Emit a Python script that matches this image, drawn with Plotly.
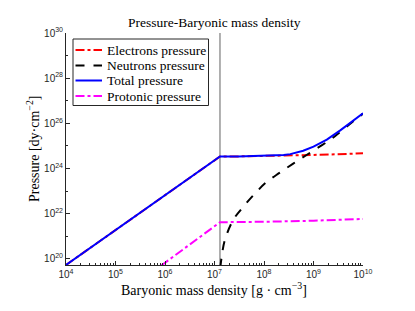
import plotly.graph_objects as go

# ---- data ----
drip_density = 1.29e7
y_axis_min = 5.4e19
y_axis_max = 1e30

total_density = [1e4, 1.29e7, 3e7, 8.3e7, 1.6e8, 2.5e8, 3.4e8, 4.5e8, 6.2e8, 1e9, 1.35e9,
                 1.86e9, 3.47e9, 6.5e9, 1e10]
total_pressure = [5.4e19, 3.4e24, 3.45e24, 3.6e24, 3.76e24, 4.0e24, 4.35e24, 5.0e24, 6.1e24,
                  9.3e24, 1.3e25, 1.9e25, 4.9e25, 1.35e26, 2.8e26]

electron_density = [1e4, 1.29e7, 3e7, 1e8, 3e8, 1e9, 3e9, 1e10]
electron_pressure = [5.4e19, 3.4e24, 3.45e24, 3.55e24, 3.75e24, 4.0e24, 4.3e24, 4.7e24]

neutron_density = [1.31e7, 1.4e7, 1.62e7, 2.4e7, 3.8e7, 6.6e7, 1.12e8, 2.09e8, 3.89e8, 7.24e8,
                   1.35e9, 2.34e9, 3.47e9, 6.46e9, 1e10]
neutron_pressure = [4e19, 1.3e20, 6.9e20, 5.4e21, 2.0e22, 7.9e22, 2.5e23, 6.6e23, 1.66e24, 3.98e24,
                    9.5e24, 2.1e25, 4.2e25, 1.26e26, 2.7e26]

proton_density = [8.3e5, 1.29e7, 1e8, 1e9, 1e10]
proton_pressure = [5.0e19, 4.2e21, 4.4e21, 4.9e21, 5.9e21]

x_tick_vals = [1e4, 1e5, 1e6, 1e7, 1e8, 1e9, 1e10]
x_tick_text = ["10<sup>4</sup>", "10<sup>5</sup>", "10<sup>6</sup>", "10<sup>7</sup>",
               "10<sup>8</sup>", "10<sup>9</sup>", "10<sup>10</sup>"]
y_tick_vals = [1e20, 1e22, 1e24, 1e26, 1e28, 1e30]
y_tick_text = ["10<sup>20</sup>", "10<sup>22</sup>", "10<sup>24</sup>", "10<sup>26</sup>",
               "10<sup>28</sup>", "10<sup>30</sup>"]

legend_names = ["Electrons pressure", "Neutrons pressure", "Total pressure", "Protonic pressure"]
legend_colors = ["#ff0000", "#000000", "#0000ff", "#ff00ff"]
legend_dashes = ["dashdot", "dash", "solid", "dashdot"]

title_text = "Pressure-Baryonic mass density"
x_title = "Baryonic mass density [g · cm<sup>−3</sup>]"
y_title = "Pressure [dy·cm<sup>−2</sup>]"

SERIF = "Liberation Serif"
SANS = "Liberation Sans"
AX = "#262626"

# The page body has an 8px default margin; the figure is sized so that
# the plot area lands at window pixels x 66..363, y 33..265.
OFF = 8
W, H = 399, 295
PL, PT, PW, PH = 66, 33, 297, 232          # plot area in window pixels
L, T = PL - OFF, PT - OFF
R, B = W - L - PW, H - T - PH


def px(xp):
    return (xp - PL) / PW


def py(yp):
    return (PT + PH - yp) / PH


fig = go.Figure()

fig.add_trace(go.Scatter(x=[drip_density, drip_density], y=[y_axis_min, y_axis_max],
                         mode="lines", line=dict(color="rgb(150,150,150)", width=1.5),
                         showlegend=False, hoverinfo="skip"))
series = [
    (electron_density, electron_pressure, "linear"),
    (neutron_density, neutron_pressure, "spline"),
    (total_density, total_pressure, "linear"),
    (proton_density, proton_pressure, "linear"),
]
for (xs, ys, shp), name, col, dash in zip(series, legend_names, legend_colors, legend_dashes):
    fig.add_trace(go.Scatter(x=xs, y=ys, mode="lines", name=name,
                             line=dict(color=col, width=2, dash=dash, shape=shp),
                             showlegend=False))

# manual legend (MATLAB-like, compact)
box_l, box_r, box_t, box_b = 73, 208.5, 39, 105.5
fig.add_shape(type="rect", xref="paper", yref="paper",
              x0=px(box_l), x1=px(box_r), y0=py(box_b), y1=py(box_t),
              line=dict(color=AX, width=1), fillcolor="white", layer="above")
row_y = [50, 65.5, 80.5, 96]
for yy, name, col, dash in zip(row_y, legend_names, legend_colors, legend_dashes):
    fig.add_shape(type="line", xref="paper", yref="paper",
                  x0=px(75.5), x1=px(102), y0=py(yy), y1=py(yy),
                  line=dict(color=col, width=2, dash=dash), layer="above")
    fig.add_annotation(text=name, xref="paper", yref="paper", x=px(104.5), y=py(yy),
                       xanchor="left", yanchor="middle", showarrow=False,
                       font=dict(family=SERIF, size=13.5, color="#000"))

# titles as positioned annotations
fig.add_annotation(text=title_text, xref="paper", yref="paper", x=px(214), y=py(23),
                   xanchor="center", yanchor="middle", showarrow=False,
                   font=dict(family=SERIF, size=13.5, color="#000"))
fig.add_annotation(text=x_title, xref="paper", yref="paper", x=px(214), y=py(289),
                   xanchor="center", yanchor="middle", showarrow=False,
                   font=dict(family=SERIF, size=14, color="#000"))
fig.add_annotation(text=y_title, xref="paper", yref="paper", x=px(33), y=py(149),
                   xanchor="center", yanchor="middle", showarrow=False, textangle=-90,
                   font=dict(family=SERIF, size=14, color="#000"))

fig.update_layout(
    width=W, height=H,
    margin=dict(l=L, r=R, t=T, b=B),
    paper_bgcolor="white", plot_bgcolor="white",
    showlegend=False,
)

fig.update_xaxes(
    type="log", range=[4, 10],
    tickvals=x_tick_vals, ticktext=x_tick_text,
    ticks="inside", ticklen=4, tickcolor=AX,
    minor=dict(ticks="inside", ticklen=2, tickcolor=AX, dtick="D1", showgrid=False),
    showline=True, linecolor=AX, linewidth=1, mirror=False,
    showgrid=False, zeroline=False,
    tickfont=dict(family=SANS, size=10, color=AX),
)
fig.update_yaxes(
    type="log", range=[19.73, 30],
    tickvals=y_tick_vals, ticktext=y_tick_text,
    ticks="inside", ticklen=4, tickcolor=AX,
    minor=dict(ticks="inside", ticklen=2, tickcolor=AX, dtick=1, showgrid=False),
    showline=True, linecolor=AX, linewidth=1, mirror=False,
    showgrid=False, zeroline=False,
    tickfont=dict(family=SANS, size=10, color=AX),
)

fig.write_html("out.html")
